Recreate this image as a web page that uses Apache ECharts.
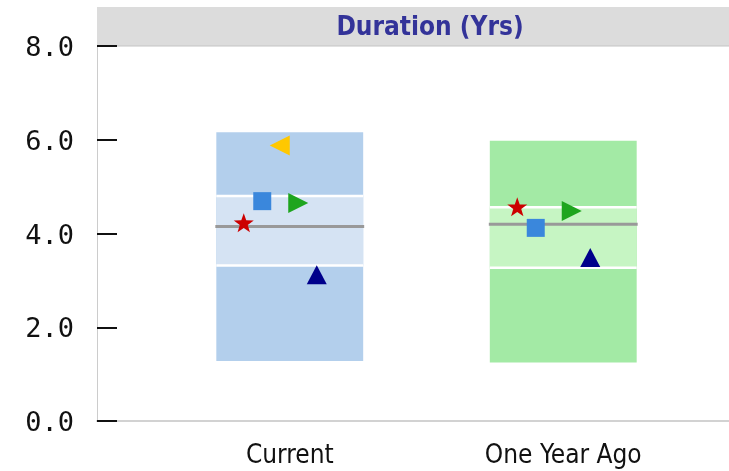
<!DOCTYPE html>
<html><head><meta charset="utf-8">
<script src="https://cdn.jsdelivr.net/npm/echarts@6/dist/echarts.min.js"></script>
<style>html,body{margin:0;padding:0;background:#fff}#c{width:729px;height:471px}</style>
</head><body><div id="c"></div>
<script>
const categories = ['Current', 'One Year Ago'];
const rangeLow = [1.28, 1.25];
const rangeHigh = [6.16, 5.98];
const quartile1 = [3.32, 3.27];
const quartile3 = [4.80, 4.56];
const medians = [4.15, 4.20];
const starValues = [4.23, 4.57];
const squareValues = [4.69, 4.12];
const leftTriValues = [5.88, null];
const rightTriValues = [4.65, 4.48];
const upTriValues = [3.12, 3.49];
const yMin = 0, yMax = 8, yStep = 2;
const titleText = 'Duration (Yrs)';

const outerColors = ['#b3cfec', '#a3eaa5'];
const innerColors = ['#d5e3f3', '#c6f5c3'];
const starPath = 'path://M0,-10L2.35,-3.24L9.51,-3.09L3.8,1.24L5.88,8.09L0,4L-5.88,8.09L-3.8,1.24L-9.51,-3.09L-2.35,-3.24Z';

const chart = echarts.init(document.getElementById('c'));
const boxData = categories.map((c, i) => [i, rangeLow[i], rangeHigh[i], quartile1[i], quartile3[i], medians[i]]);

function renderBox(params, api) {
  const i = api.value(0);
  const x = api.coord([i, 0])[0];
  const w = api.size([1, 0])[0] * 0.537;
  const yl = api.coord([i, api.value(1)])[1];
  const yh = api.coord([i, api.value(2)])[1];
  const y1 = api.coord([i, api.value(3)])[1];
  const y3 = api.coord([i, api.value(4)])[1];
  const ym = api.coord([i, api.value(5)])[1];
  const x0 = x - w / 2, x1 = x + w / 2;
  return {
    type: 'group',
    children: [
      {type: 'rect', shape: {x: x0, y: yh, width: w, height: yl - yh}, style: {fill: outerColors[i]}},
      {type: 'rect', shape: {x: x0, y: y3, width: w, height: y1 - y3}, style: {fill: innerColors[i]}},
      {type: 'line', shape: {x1: x0, y1: y3, x2: x1, y2: y3}, style: {stroke: '#ffffff', lineWidth: 2.5}},
      {type: 'line', shape: {x1: x0, y1: y1, x2: x1, y2: y1}, style: {stroke: '#ffffff', lineWidth: 2.5}},
      {type: 'line', shape: {x1: x0 - 1, y1: ym, x2: x1 + 1, y2: ym}, style: {stroke: '#999999', lineWidth: 3}}
    ]
  };
}

function markerSeries(name, values, symbol, size, rotate, offset, color) {
  return {
    name: name, type: 'scatter', xAxisIndex: 1, yAxisIndex: 1,
    data: values, symbol: symbol, symbolSize: size, symbolRotate: rotate,
    symbolOffset: [offset, 0], itemStyle: {color: color, opacity: 1}, z: 5,
    emphasis: {disabled: true}
  };
}

chart.setOption({
  animation: false,
  backgroundColor: '#ffffff',
  graphic: [
    {type: 'rect', shape: {x: 97, y: 7, width: 632, height: 39}, style: {fill: '#dcdcdc'}, z: -1},
    {type: 'line', shape: {x1: 97, y1: 46, x2: 729, y2: 46}, style: {stroke: '#c4c4c4', lineWidth: 1}, z: -1},
    {type: 'text', x: 430, y: 28, style: {text: titleText, align: 'center', verticalAlign: 'middle',
      font: 'bold 26px "DejaVu Sans Condensed", "DejaVu Sans", sans-serif', fill: '#333399'}}
  ],
  grid: [
    {left: 97, right: 0, top: 46, bottom: 50, containLabel: false},
    {left: 153, width: 547, top: 46, bottom: 50, containLabel: false}
  ],
  xAxis: [
    {type: 'value', gridIndex: 0, min: 0, max: 1, axisLine: {show: true, lineStyle: {color: '#d2d2d2', width: 2}},
      axisTick: {show: false}, axisLabel: {show: false}, splitLine: {show: false}},
    {type: 'category', gridIndex: 1, data: categories, axisLine: {show: false}, axisTick: {show: false},
      splitLine: {show: false},
      axisLabel: {margin: 22, fontSize: 26, fontFamily: '"DejaVu Sans Condensed", "DejaVu Sans", sans-serif', color: '#111111'}}
  ],
  yAxis: [
    {type: 'value', gridIndex: 0, min: yMin, max: yMax, interval: yStep,
      axisLine: {show: true, lineStyle: {color: '#cccccc', width: 1}},
      axisTick: {show: true, inside: true, length: 20, lineStyle: {color: '#111111', width: 2}},
      splitLine: {show: false},
      axisLabel: {margin: 23, color: '#111111',
        formatter: v => '{v|' + v.toFixed(1) + '}',
        rich: {v: {fontSize: 27, fontFamily: '"DejaVu Sans Mono", monospace', color: '#111111', padding: [6, 0, 0, 0]}}}},
    {type: 'value', gridIndex: 1, min: yMin, max: yMax, show: false, splitLine: {show: false}}
  ],
  series: [
    {type: 'custom', xAxisIndex: 1, yAxisIndex: 1, renderItem: renderBox, data: boxData,
      encode: {x: 0, y: [1, 2, 3, 4, 5]}, z: 2, silent: true},
    markerSeries('star', starValues, starPath, [20, 19], 0, -46, '#cc0000'),
    markerSeries('square', squareValues, 'rect', 18, 0, -27.5, '#3a87dc'),
    markerSeries('left', leftTriValues, 'triangle', 20, 90, -10, '#ffc800'),
    markerSeries('right', rightTriValues, 'triangle', 20, -90, 8.5, '#1ea51e'),
    markerSeries('up', upTriValues, 'triangle', [20, 19], 0, 27, '#00008b')
  ]
});
</script>
</body></html>
